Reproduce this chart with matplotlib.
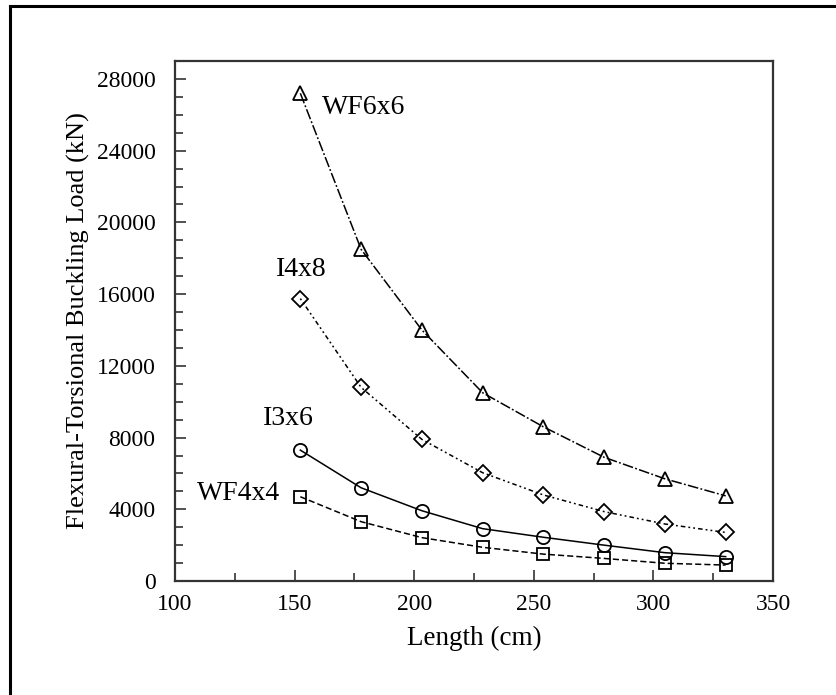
"""Flexural-torsional buckling load versus member length for four sections."""

import matplotlib.pyplot as plt
from matplotlib.lines import Line2D
from matplotlib.ticker import MultipleLocator

plt.rcParams["font.family"] = ["Liberation Serif", "DejaVu Serif"]

# member lengths (cm)
length_cm = [152.4, 177.8, 203.2, 228.6, 254.0, 279.4, 304.8, 330.2]

# buckling loads (kN)
wf6x6 = [27200, 18500, 14000, 10500, 8600, 6900, 5700, 4750]
i4x8 = [15750, 10800, 7900, 6040, 4800, 3870, 3180, 2710]
i3x6 = [7300, 5200, 3920, 2920, 2440, 2000, 1580, 1360]
wf4x4 = [4700, 3310, 2420, 1880, 1500, 1260, 990, 890]

section_names = ["WF6x6", "I4x8", "I3x6", "WF4x4"]
label_x = [161.5, 142.2, 136.9, 109.1]
label_y = [26400, 17350, 9070, 4890]

fig = plt.figure(figsize=(8.36, 6.95), dpi=100)
ax = fig.add_axes([0.2093, 0.164, 0.7154, 0.7482])

series = [
    (wf6x6, "^", 10, (0, (7, 1.5, 1.2, 1.5))),
    (i4x8, "D", 8, (0, (1.2, 2, 1.2, 2, 3, 2))),
    (i3x6, "o", 9.5, "-"),
    (wf4x4, "s", 9, (0, (4, 2))),
]
for values, marker, size, style in series:
    ax.plot(length_cm, values, color="black", linestyle=style, linewidth=1.1)
    ax.plot(
        length_cm,
        values,
        linestyle="none",
        marker=marker,
        markersize=size,
        markerfacecolor="none",
        markeredgecolor="black",
        markeredgewidth=1.3,
    )

for name, x, y in zip(section_names, label_x, label_y):
    ax.text(x, y, name, fontsize=20, ha="left", va="center",
            bbox=dict(facecolor="white", edgecolor="none", pad=1))

ax.set_xlim(100, 350)
ax.set_ylim(0, 29000)
ax.xaxis.set_major_locator(MultipleLocator(50))
ax.xaxis.set_minor_locator(MultipleLocator(25))
ax.yaxis.set_major_locator(MultipleLocator(4000))
ax.yaxis.set_minor_locator(MultipleLocator(1000))
ax.tick_params(which="both", direction="in", width=1.2, colors="#333333",
               labelcolor="black", labelsize=17)
ax.tick_params(which="major", length=8)
ax.tick_params(which="minor", length=6)
ax.tick_params(axis="y", pad=14)
ax.tick_params(axis="x", pad=9)
for spine in ax.spines.values():
    spine.set_linewidth(1.6)
    spine.set_color("#333333")

ax.set_xlabel("Length (cm)", fontsize=19.5, labelpad=8)
ax.set_ylabel("Flexural-Torsional Buckling Load (kN)", fontsize=19, labelpad=5)

# outer frame of the original figure (left and top edges)
fig.add_artist(Line2D([0.0115, 0.0115], [0.0, 0.991], color="black",
                      linewidth=2.2, transform=fig.transFigure))
fig.add_artist(Line2D([0.0115, 1.0], [0.991, 0.991], color="black",
                      linewidth=2.2, transform=fig.transFigure))

fig.savefig("out.png", dpi=100)
